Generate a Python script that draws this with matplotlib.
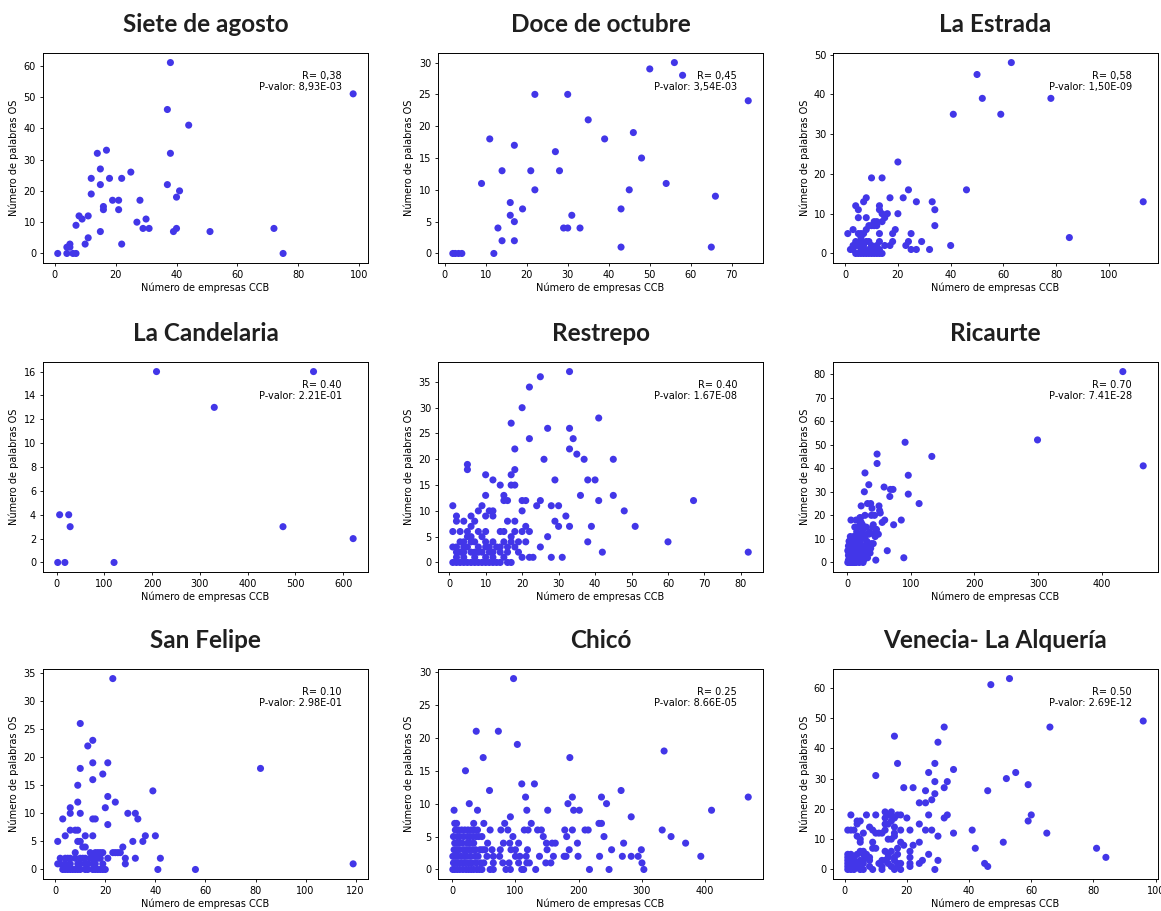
import matplotlib
matplotlib.use('Agg')
import matplotlib.pyplot as plt

# ---- data ----
titles = ['Siete de agosto', 'Doce de octubre', 'La Estrada',
          'La Candelaria', 'Restrepo', 'Ricaurte',
          'San Felipe', 'Chicó', 'Venecia- La Alquería']

r_texts = ['R= 0,38', 'R= 0,45', 'R= 0,58',
           'R= 0.40', 'R= 0.40', 'R= 0.70',
           'R= 0.10', 'R= 0.25', 'R= 0.50']
p_texts = ['P-valor: 8,93E-03', 'P-valor: 3,54E-03', 'P-valor: 1,50E-09',
           'P-valor: 2.21E-01', 'P-valor: 1.67E-08', 'P-valor: 7.41E-28',
           'P-valor: 2.98E-01', 'P-valor: 8.66E-05', 'P-valor: 2.69E-12']

siete_x = [1, 4, 4, 5, 5, 6, 7, 7, 8, 9, 10, 11, 11, 12, 12, 14, 15, 15, 15, 16,
           16, 17, 18, 19, 21, 21, 22, 22, 25, 27, 28, 29, 30, 31, 37, 37, 38, 38, 39, 40,
           40, 41, 44, 51, 72, 75, 98]
siete_y = [0, 0, 2, 3, 2, 0, 0, 9, 12, 11, 3, 5, 12, 19, 24, 32, 27, 22, 7, 15,
           14, 33, 24, 17, 17, 14, 24, 3, 26, 10, 17, 8, 11, 8, 46, 22, 61, 32, 7, 8,
           18, 20, 41, 7, 8, 0, 51]

doce_x = [2, 2.6, 3.4, 4.2, 9, 11, 12, 13, 14, 14, 16, 16, 17, 17, 17, 19, 21, 22, 22, 27,
          28, 29, 30, 30, 31, 33, 35, 39, 43, 43, 45, 46, 48, 50, 54, 56, 58, 65, 66, 74]
doce_y = [0, 0, 0, 0, 11, 18, 0, 4, 13, 2, 8, 6, 17, 5, 2, 7, 13, 25, 10, 16,
          13, 4, 25, 4, 6, 4, 21, 18, 7, 1, 10, 19, 15, 29, 11, 30, 28, 1, 9, 24]

estrada_x = [1, 2, 3, 4, 5, 5, 5,
             4, 5, 6, 7, 8, 9, 10, 11, 12, 13, 14,
             3, 4, 6, 7, 8, 9,
             7, 8, 8, 9, 10, 11, 12, 13, 13, 13, 13, 14, 14, 15, 14, 16, 15, 17, 17, 18,
             18, 19, 20, 20, 22, 23, 24, 24, 25, 25, 27, 27, 29, 32, 33, 34, 34, 40, 41, 46,
             50, 52, 59, 63, 78, 85, 113,
             3, 4, 5, 6, 6, 7, 7, 8, 9, 10, 10, 11, 12, 12, 13, 6, 10, 11, 12]
estrada_y = [5, 1, 6, 12, 11, 9, 5,
             0, 0, 0, 0, 0, 0, 0, 0, 0, 0, 0,
             2, 3, 4, 5, 6, 7,
             13, 14, 9, 3, 19, 8, 7, 12, 11, 5, 3, 19, 10, 9, 8, 10, 2, 14, 2, 3,
             5, 6, 23, 10, 14, 2, 16, 3, 5, 1, 13, 1, 3, 1, 13, 11, 7, 2, 35, 16,
             45, 39, 35, 48, 39, 4, 13,
             1, 2, 2, 1, 3, 1, 2, 3, 1, 2, 1, 1, 1, 2, 1, 5, 7, 7, 8]

candelaria_x = [2, 17, 6, 25, 28, 120, 209, 330, 474, 538, 621]
candelaria_y = [0, 0, 4, 4, 3, 0, 16, 13, 3, 16, 2]

restrepo_x = [33, 25, 22, 20, 41, 17, 27, 33, 22, 34, 18, 33, 35, 5, 5, 26, 37, 45, 18, 17,
              10, 12, 29, 38, 40, 14, 17, 18, 10, 15, 15, 16, 36, 45, 20, 21, 25, 41, 67, 1,
              9, 24, 28, 30, 11, 12, 8, 20, 48,
              2, 6, 10, 12, 32,
              2, 4, 7, 16, 18, 29,
              6, 21, 30, 33, 39, 51,
              1, 3, 5, 8, 10, 14, 15, 18, 20, 22,
              5, 6, 9, 17, 27,
              3, 4, 6, 7, 10, 12, 15, 17, 19, 21, 38, 60,
              1, 2, 4, 5, 8, 10, 11, 13, 14, 16, 18, 25,
              2, 3, 4, 6, 7, 8, 9, 11, 12, 14, 16, 19, 42, 82,
              2, 4, 7, 10, 12, 15, 20, 22, 23, 28, 31,
              1, 2, 3, 4, 5, 6, 7, 8, 9, 10, 11, 12, 13, 14, 16, 17]
restrepo_y = [37, 36, 34, 30, 28, 27, 26, 26, 24, 24, 22, 22, 21, 19, 18, 20, 20, 20, 18, 17,
              17, 16, 16, 16, 16, 15, 15, 15, 13, 13, 12, 12, 13, 13, 12, 12, 12, 12, 12, 11,
              11, 11, 11, 11, 10, 10, 10, 10, 10,
              9, 9, 9, 9, 9,
              8, 8, 8, 8, 8, 8,
              7, 7, 7, 7, 7, 7,
              6, 6, 6, 6, 6, 6, 6, 6, 6, 6,
              5, 5, 5, 5, 5,
              4, 4, 4, 4, 4, 4, 4, 4, 4, 4, 4, 4,
              3, 3, 3, 3, 3, 3, 3, 3, 3, 3, 3, 3,
              2, 2, 2, 2, 2, 2, 2, 2, 2, 2, 2, 2, 2, 2,
              1, 1, 1, 1, 1, 1, 1, 1, 1, 1, 1,
              0, 0, 0, 0, 0, 0, 0, 0, 0, 0, 0, 0, 0, 0, 0, 0]

ricaurte_x = [433, 299, 465, 91, 133, 47, 47, 28, 96, 34, 58, 68, 72, 27, 96, 67, 32, 37, 113, 22,
              50, 51, 52, 39, 38, 43, 21, 59, 55, 6, 85, 73, 41, 46, 49, 20, 23, 63, 45, 89,
              2, 3, 4, 5, 5, 6, 7, 8, 8, 9, 10, 10, 11, 12, 13, 14, 15, 15, 16, 17,
              18, 19, 20, 20, 21, 22, 23, 24, 25, 26, 27, 28, 29, 30, 31, 33, 35, 36, 38, 40,
              41, 44, 3, 4, 6, 7, 9, 11, 12, 14, 16, 18, 19, 21, 23, 25, 27, 29, 32, 34,
              37, 42, 45, 12, 14, 18, 20, 24, 26, 28, 30, 1, 1, 2, 2, 3]
ricaurte_y = [81, 52, 41, 51, 45, 46, 42, 38, 37, 33, 32, 31, 31, 30, 29, 28, 25, 25, 25, 24,
              24, 22, 21, 23, 20, 20, 19, 18, 17, 18, 18, 16, 16, 14, 12, 16, 15, 5, 1, 2,
              1, 0, 9, 11, 7, 3, 5, 10, 2, 0, 6, 11, 4, 8, 1, 0, 13, 6, 3, 9,
              15, 12, 5, 2, 8, 17, 10, 4, 14, 1, 7, 11, 3, 15, 9, 5, 13, 4, 8, 15,
              8, 11, 4, 2, 0, 8, 3, 0, 5, 2, 11, 6, 0, 2, 6, 0, 3, 7, 2, 12,
              6, 12, 14, 15, 18, 10, 19, 16, 12, 20, 6, 0, 5, 3, 7, 9]

felipe_x = [23, 10, 15, 13, 15, 21, 10, 82, 19, 15, 9, 39, 21, 9, 24, 6, 20, 6, 10, 29,
            32, 3, 15, 16, 33, 21, 6, 8, 9, 4, 12, 15, 36, 40, 1, 9, 10, 31, 35, 11,
            12, 27,
            8, 14, 16, 17, 18, 19, 23, 24, 25, 26,
            2, 4, 5, 6, 8, 10, 11, 12, 14, 15, 16, 17, 18, 21, 28, 32, 42,
            1, 2, 4, 6, 9, 10, 12, 13, 15, 16, 19, 28, 119,
            3, 4, 5, 6, 7, 8, 9, 10, 12, 13, 15, 16, 17, 18, 19, 20, 41, 56]
felipe_y = [34, 26, 23, 22, 19, 19, 18, 18, 17, 16, 15, 14, 13, 12, 12, 11, 11, 10, 10, 10,
            10, 9, 9, 9, 9, 8, 7, 7, 7, 6, 6, 6, 6, 6, 5, 5, 5, 5, 5, 4,
            4, 4,
            3, 3, 3, 3, 3, 3, 3, 3, 3, 3,
            2, 2, 2, 2, 2, 2, 2, 2, 2, 2, 2, 2, 2, 2, 2, 2, 2,
            1, 1, 1, 1, 1, 1, 1, 1, 1, 1, 1, 1, 1,
            0, 0, 0, 0, 0, 0, 0, 0, 0, 0, 0, 0, 0, 0, 0, 0, 0, 0]

chico_x = [97, 38, 73, 103, 49, 186, 335, 21, 110, 130, 59, 267, 116, 190, 236, 468, 27, 183, 244, 3,
           40, 118, 151, 192, 201, 410, 92, 283, 4, 7, 34, 50, 83, 125, 232, 236,
           5, 10, 15, 20, 25, 30, 35, 40, 60, 77, 88, 114, 120, 135, 141, 178, 190, 210, 215, 332,
           2, 8, 12, 18, 24, 28, 33, 38, 42, 47, 96, 144, 181, 240, 346,
           4, 8, 12, 16, 24, 28, 34, 56, 81, 91, 105, 149, 158, 163, 198, 271, 369,
           3, 7, 11, 18, 22, 27, 32, 37, 44, 48, 52, 63, 76, 93, 100, 119, 150, 185, 252, 299,
           1, 5, 9, 14, 19, 23, 29, 36, 41, 55, 65, 75, 100, 107, 117, 138, 160, 177, 180, 199,
           233, 269, 283, 294, 393,
           2, 6, 10, 15, 20, 26, 31, 38, 45, 50, 65, 80, 90, 105, 118, 122, 148, 156, 300,
           1, 4, 8, 12, 17, 22, 26, 30, 34, 39, 43, 47, 60, 65, 85, 92, 110, 113, 132, 217,
           248, 303]
chico_y = [29, 21, 21, 19, 17, 17, 18, 15, 13, 13, 12, 12, 11, 11, 11, 11, 10, 10, 10, 9,
           9, 9, 9, 9, 9, 9, 8, 8, 7, 7, 7, 7, 7, 7, 7, 7,
           6, 6, 6, 6, 6, 6, 6, 6, 6, 6, 6, 6, 6, 6, 6, 6, 6, 6, 6, 6,
           5, 5, 5, 5, 5, 5, 5, 5, 5, 5, 5, 5, 5, 5, 5,
           4, 4, 4, 4, 4, 4, 4, 4, 4, 4, 4, 4, 4, 4, 4, 4, 4,
           3, 3, 3, 3, 3, 3, 3, 3, 3, 3, 3, 3, 3, 3, 3, 3, 3, 3, 3, 3,
           2, 2, 2, 2, 2, 2, 2, 2, 2, 2, 2, 2, 2, 2, 2, 2, 2, 2, 2, 2,
           2, 2, 2, 2, 2,
           1, 1, 1, 1, 1, 1, 1, 1, 1, 1, 1, 1, 1, 1, 1, 1, 1, 1, 1,
           0, 0, 0, 0, 0, 0, 0, 0, 0, 0, 0, 0, 0, 0, 0, 0, 0, 0, 0, 0,
           0, 0]

venecia_x = [53, 47, 96, 32, 66, 16, 30, 17, 29, 35, 27, 55, 10, 52, 33, 29, 59, 19, 22, 32,
             26, 46, 29, 28, 24, 26, 60, 59, 27, 33, 32, 20, 24, 41, 35, 65, 30, 51, 42, 81,
             84, 45, 46, 29, 30,
             2, 7, 10, 14, 15, 17, 18, 13, 15, 13, 16, 4, 5, 15, 4, 13, 14, 8, 16,
             1, 2, 3, 9, 13, 18, 21, 26, 28, 6, 10, 11, 12, 16, 4, 16, 5, 14, 15,
             5, 9, 18, 24, 19, 22, 9, 10, 17, 5, 6, 13, 15, 21,
             1, 2, 4, 6, 7, 14, 17, 27, 1, 3, 7, 8, 14, 16, 21,
             1, 3, 5, 6, 8, 12, 13, 16, 25, 1, 2, 4, 6, 11, 14, 17, 18, 21, 24,
             1, 3, 4, 5, 8, 12, 15, 17, 21, 1, 2, 3, 5, 6, 9, 12, 16, 18]
venecia_y = [63, 61, 49, 47, 47, 44, 42, 35, 35, 33, 32, 32, 31, 30, 29, 29, 28, 27, 27, 27,
             26, 26, 25, 23, 22, 22, 18, 16, 18, 18, 17, 17, 15, 13, 12, 12, 11, 9, 7, 7,
             4, 2, 1, 0, 3,
             18, 18, 18, 18, 18, 18, 18, 19, 19, 17, 17, 16, 16, 16, 15, 15, 15, 14, 14,
             13, 13, 13, 13, 13, 13, 13, 13, 13, 12, 12, 12, 12, 12, 11, 11, 10, 10, 10,
             9, 9, 9, 9, 8, 8, 7, 7, 7, 6, 6, 6, 6, 6,
             5, 5, 5, 5, 5, 5, 5, 5, 4, 4, 4, 4, 4, 4, 4,
             3, 3, 3, 3, 3, 3, 3, 3, 3, 2, 2, 2, 2, 2, 2, 2, 2, 2, 2,
             1, 1, 1, 1, 1, 1, 1, 1, 1, 0, 0, 0, 0, 0, 0, 0, 0, 0]

xs = [siete_x, doce_x, estrada_x, candelaria_x, restrepo_x, ricaurte_x,
      felipe_x, chico_x, venecia_x]
ys = [siete_y, doce_y, estrada_y, candelaria_y, restrepo_y, ricaurte_y,
      felipe_y, chico_y, venecia_y]

POINT_COLOR = '#4236E8'
SMALL = 7

plt.rcParams['font.family'] = ['DejaVu Sans']
plt.rcParams['axes.linewidth'] = 0.7
for a in ('xtick', 'ytick'):
    plt.rcParams[a + '.major.size'] = 2.5
    plt.rcParams[a + '.major.width'] = 0.6
    plt.rcParams[a + '.major.pad'] = 2.5
    plt.rcParams[a + '.labelsize'] = SMALL

fig = plt.figure(figsize=(11.61, 9.11), dpi=100)

lefts = [0.037, 0.3773, 0.7175]
bottoms = [0.7113, 0.3721, 0.0351]
width, height = 0.2799, 0.2305


def plot_panel(ax, title, x, y, r_text, p_text):
    ax.scatter(x, y, s=26, color=POINT_COLOR, edgecolors='none')
    ax.set_title(title, fontsize=17.5, fontweight='bold', family='Lato',
                 color='#1f1f1f', pad=15)
    ax.set_xlabel('Número de empresas CCB', fontsize=SMALL, labelpad=2)
    ax.set_ylabel('Número de palabras OS', fontsize=SMALL, labelpad=3)
    ax.text(0.92, 0.915, r_text + '\n' + p_text, transform=ax.transAxes,
            ha='right', va='top', fontsize=SMALL, multialignment='right',
            linespacing=1.15)


for i in range(9):
    row, col = divmod(i, 3)
    ax = fig.add_axes([lefts[col], bottoms[row], width, height])
    plot_panel(ax, titles[i], xs[i], ys[i], r_texts[i], p_texts[i])

fig.savefig('out.png', dpi=100)
